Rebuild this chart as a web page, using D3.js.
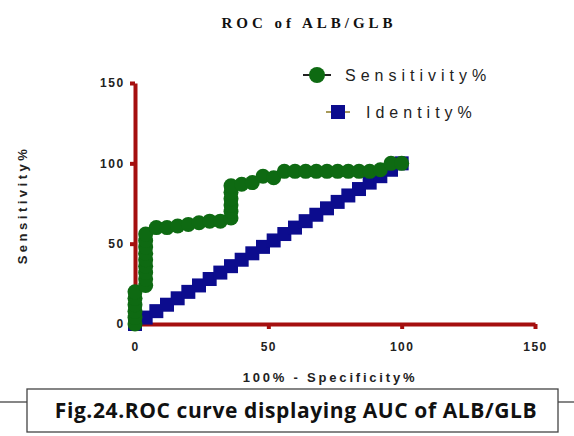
<!DOCTYPE html>
<html lang="en">
<head>
  <meta charset="UTF-8">
  <title>ROC of ALB/GLB</title>
  <script src="https://d3js.org/d3.v7.min.js"></script>
  <style>
    body { margin: 0; background: #fff; }
    svg { display: block; }
    .tick-label { font-family: "Liberation Sans", Arial, sans-serif; font-weight: bold; font-size: 12px; fill: #222; letter-spacing: 1.5px; }
  </style>
</head>
<body>
  <svg id="chart" width="574" height="436"></svg>
  <script>
    // ---- data ----
    const fpr = [0, 0, 0, 0, 0, 0,
                 4, 4, 4, 4, 4, 4, 4, 4, 4,
                 8, 12, 16, 20, 24, 28, 32,
                 36, 36, 36, 36, 36, 36,
                 40, 44, 48, 52, 56, 60, 64, 68, 72, 76, 80, 84, 88, 92, 96, 100];
    const sensitivity = [0, 4, 8, 12, 16, 20,
                 24, 28, 32, 36, 40, 44, 48, 52, 56,
                 60, 60, 61, 62, 63, 64, 64,
                 66, 70, 74, 78, 82, 86,
                 87, 88, 92, 91, 95, 95, 95, 95, 95, 95, 95, 95, 95, 96, 100, 100];
    const identityX = [0, 4, 8, 12, 16, 20, 24, 28, 32, 36, 40, 44, 48, 52, 56, 60, 64, 68, 72, 76, 80, 84, 88, 92, 96, 100];
    const identityY = [0, 4, 8, 12, 16, 20, 24, 28, 32, 36, 40, 44, 48, 52, 56, 60, 64, 68, 72, 76, 80, 84, 88, 92, 96, 100];
    const xTicks = [0, 50, 100, 150];
    const yTicks = [0, 50, 100, 150];

    const axisColor = "#a50f0f",
          green = "#0e6a12",
          blue = "#0c0c8e";

    const svg = d3.select("#chart");

    const x = d3.scaleLinear().domain([0, 150]).range([135, 535]);
    const y = d3.scaleLinear().domain([0, 150]).range([324, 83]);

    // title
    svg.append("text")
       .attr("x", 309).attr("y", 28)
       .attr("text-anchor", "middle")
       .style("font-family", "'Liberation Serif', 'Times New Roman', serif")
       .style("font-weight", "bold").style("font-size", "15px")
       .style("letter-spacing", "4px").style("fill", "#111")
       .text("ROC of ALB/GLB");

    // axes
    const xAxis = svg.append("g").attr("transform", `translate(0,${y(0)})`)
       .call(d3.axisBottom(x).tickValues(xTicks).tickSize(5).tickSizeOuter(0));
    const yAxis = svg.append("g").attr("transform", `translate(${x(0)},0)`)
       .call(d3.axisLeft(y).tickValues(yTicks).tickSize(5).tickSizeOuter(0));

    [xAxis, yAxis].forEach(g => {
      g.select(".domain").attr("stroke", axisColor).attr("stroke-width", 4);
      g.selectAll(".tick line").attr("stroke", axisColor).attr("stroke-width", 4);
      g.selectAll(".tick text").attr("class", "tick-label").attr("fill", "#222");
    });
    xAxis.selectAll(".tick text").attr("dy", "1.6em");
    yAxis.selectAll(".tick text").attr("dx", "-0.2em");

    // identity series (squares)
    const idPts = identityX.map((v, i) => ({ x: v, y: identityY[i] }));
    svg.append("g").selectAll("rect")
       .data(idPts).enter().append("rect")
       .attr("x", d => x(d.x) - 7).attr("y", d => y(d.y) - 7)
       .attr("width", 14).attr("height", 14)
       .attr("fill", blue);

    // sensitivity series (circles)
    const sensPts = fpr.map((v, i) => ({ x: v, y: sensitivity[i] }));
    svg.append("path")
       .datum(sensPts)
       .attr("fill", "none").attr("stroke", green).attr("stroke-width", 3)
       .attr("d", d3.line().x(d => x(d.x)).y(d => y(d.y)));
    svg.append("g").selectAll("circle")
       .data(sensPts).enter().append("circle")
       .attr("cx", d => x(d.x)).attr("cy", d => y(d.y))
       .attr("r", 7.5)
       .attr("fill", green);

    // legend
    const legend = svg.append("g")
       .style("font-family", "'Liberation Sans', Arial, sans-serif")
       .style("font-size", "16px").style("letter-spacing", "5px");
    legend.append("line").attr("x1", 303).attr("x2", 331).attr("y1", 75).attr("y2", 75)
       .attr("stroke", "#222").attr("stroke-width", 2);
    legend.append("circle").attr("cx", 317).attr("cy", 75).attr("r", 8).attr("fill", green);
    legend.append("text").attr("x", 345).attr("y", 81).attr("fill", "#222").text("Sensitivity%");
    legend.append("line").attr("x1", 326).attr("x2", 350).attr("y1", 112).attr("y2", 112)
       .attr("stroke", "#a89a5a").attr("stroke-width", 2);
    legend.append("rect").attr("x", 331).attr("y", 105).attr("width", 14).attr("height", 14).attr("fill", blue);
    legend.append("text").attr("x", 366).attr("y", 118).attr("fill", "#222").text("Identity%");

    // axis titles
    svg.append("text")
       .attr("transform", "translate(27,205) rotate(-90)")
       .attr("text-anchor", "middle")
       .style("font-family", "'Liberation Sans', Arial, sans-serif")
       .style("font-weight", "bold").style("font-size", "13px")
       .style("letter-spacing", "3.5px").style("fill", "#222")
       .text("Sensitivity%");
    svg.append("text")
       .attr("x", 330).attr("y", 382)
       .attr("text-anchor", "middle")
       .style("font-family", "'Liberation Sans', Arial, sans-serif")
       .style("font-weight", "bold").style("font-size", "13px")
       .style("letter-spacing", "2.8px").style("fill", "#222")
       .text("100% - Specificity%");

    // caption box
    svg.append("line").attr("x1", 0).attr("x2", 27).attr("y1", 402).attr("y2", 402)
       .attr("stroke", "#444").attr("stroke-width", 1.3);
    svg.append("line").attr("x1", 558).attr("x2", 574).attr("y1", 402).attr("y2", 402)
       .attr("stroke", "#444").attr("stroke-width", 1.3);
    svg.append("rect").attr("x", 27).attr("y", 389).attr("width", 531).attr("height", 43)
       .attr("fill", "#fff").attr("stroke", "#444").attr("stroke-width", 1.3);
    svg.append("text")
       .attr("x", 296).attr("y", 418)
       .attr("text-anchor", "middle")
       .style("font-family", "'Open Sans', 'Liberation Sans', sans-serif")
       .style("font-weight", "bold").style("font-size", "21px")
       .style("letter-spacing", "0.6px").style("fill", "#111")
       .text("Fig.24.ROC curve displaying AUC of ALB/GLB");
  </script>
</body>
</html>
